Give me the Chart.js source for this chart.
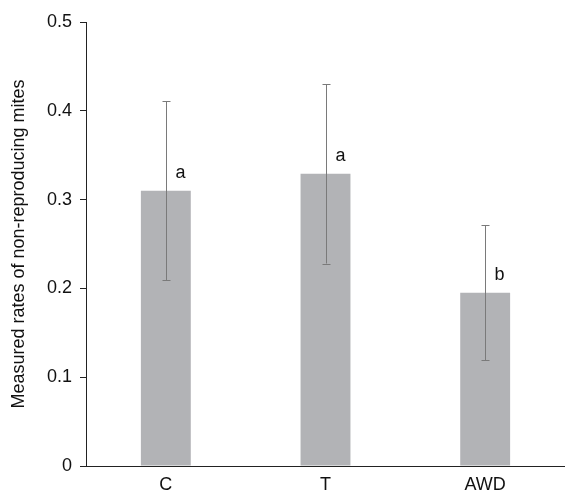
<!DOCTYPE html>
<html><head><meta charset="utf-8">
<script src="https://cdn.jsdelivr.net/npm/chart.js@4"></script>
<style>html,body{margin:0;padding:0;background:#fff}#wrap{width:565px;height:492px}</style>
</head><body><div id="wrap"><canvas id="c" width="565" height="492"></canvas></div>
<script>
const categories = ["C", "T", "AWD"];
const means = [0.31, 0.329, 0.195];
const errors = [0.101, 0.101, 0.076];
const letters = ["a", "a", "b"];
const yTicks = [0, 0.1, 0.2, 0.3, 0.4, 0.5];

const FONT = "'Liberation Sans', Arial, sans-serif";

const errPlugin = {
  id: 'err',
  afterDatasetsDraw(chart) {
    const ctx = chart.ctx, xs = chart.scales.x, ys = chart.scales.y;
    ctx.save();
    ctx.strokeStyle = '#7a7a7a';
    ctx.lineWidth = 1;
    means.forEach((m, i) => {
      const x = Math.round(xs.getPixelForValue(i)) + 0.5;
      const yt = ys.getPixelForValue(m + errors[i]);
      const yb = ys.getPixelForValue(m - errors[i]);
      ctx.beginPath();
      ctx.moveTo(x, yt); ctx.lineTo(x, yb);
      ctx.moveTo(x - 4, Math.round(yt) + 0.5); ctx.lineTo(x + 4, Math.round(yt) + 0.5);
      ctx.moveTo(x - 4, Math.round(yb) + 0.5); ctx.lineTo(x + 4, Math.round(yb) + 0.5);
      ctx.stroke();
      ctx.fillStyle = '#111';
      ctx.font = '18px ' + FONT;
      ctx.textAlign = 'center';
      ctx.textBaseline = 'alphabetic';
      const ylab = ys.getPixelForValue(m) - 13;
      ctx.fillText(letters[i], x + 14, ylab);
    });
    ctx.restore();
  }
};

new Chart(document.getElementById('c'), {
  type: 'bar',
  data: {
    labels: categories,
    datasets: [{
      data: means,
      backgroundColor: '#b2b3b6',
      borderWidth: 0,
      barPercentage: 0.3125,
      categoryPercentage: 1.0
    }]
  },
  options: {
    responsive: false,
    animation: false,
    events: [],
    layout: { padding: { top: 22, right: 0, bottom: 0, left: 0 } },
    plugins: { legend: { display: false }, tooltip: { enabled: false } },
    scales: {
      x: {
        grid: { display: false, drawTicks: false },
        border: { display: true, color: '#222', width: 1 },
        ticks: { color: '#111', font: { family: FONT, size: 18 }, padding: 8 },
        afterFit(s) { s.height = 26; }
      },
      y: {
        min: 0, max: 0.5,
        afterBuildTicks(s) { s.ticks = yTicks.map(v => ({ value: v })); },
        grid: { display: true, drawOnChartArea: false, drawTicks: true, tickLength: 6, color: '#222' },
        border: { display: true, color: '#222', width: 1 },
        ticks: {
          color: '#111', font: { family: FONT, size: 18 }, padding: 8,
          callback: v => v === 0 ? '0' : v.toFixed(1)
        },
        title: {
          display: true, text: 'Measured rates of non-reproducing mites',
          color: '#111', font: { family: FONT, size: 18 }, padding: { top: 8, bottom: 4 }
        },
        afterFit(s) { s.width = 86; }
      }
    }
  },
  plugins: [errPlugin]
});
</script>
</body></html>
